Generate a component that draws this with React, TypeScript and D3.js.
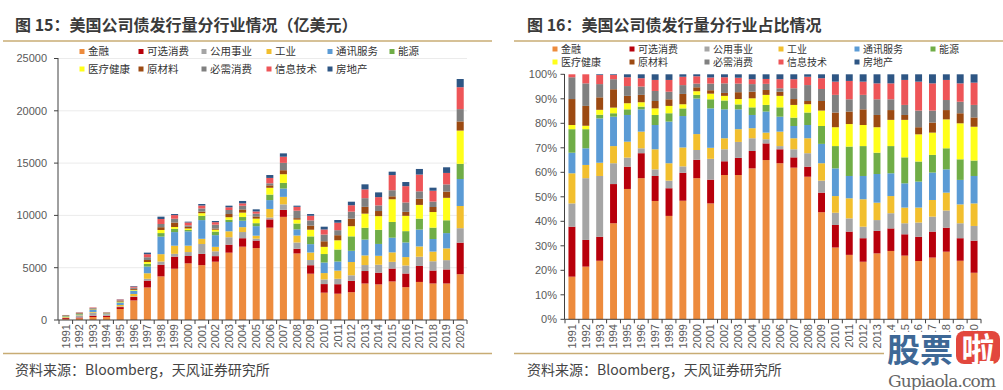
import * as d3 from "d3";

const years = ["1991", "1992", "1993", "1994", "1995", "1996", "1997", "1998", "1999", "2000",
  "2001", "2002", "2003", "2004", "2005", "2006", "2007", "2008", "2009", "2010",
  "2011", "2012", "2013", "2014", "2015", "2016", "2017", "2018", "2019", "2020"];

const seriesNames = ["金融", "可选消费", "公用事业", "工业", "通讯服务", "能源", "医疗健康", "原材料", "必需消费", "信息技术", "房地产"];
const seriesColors = ["#ED8B3D", "#B8000B", "#A5A5A5", "#F2BF2E", "#5B9BD5", "#70AD47", "#FFFF1A", "#9C4A12", "#808080", "#EE5558", "#2E5684"];

// total issuance, 亿美元 (left chart bar heights)
const totals = [480, 740, 1200, 740, 1980, 3250, 6440, 9880, 10130, 9400,
  11090, 9465, 10930, 11380, 10580, 13860, 15930, 10930, 10130, 8920,
  9560, 11310, 12970, 12200, 14180, 13190, 14440, 12650, 14600, 23040];

// share of each industry, % (right chart)
const finance = [17.4, 21.5, 23.9, 39.2, 53.2, 57.6, 48.3, 42.2, 48.3, 57.6, 47.3, 58.9, 58.9, 61.6, 65.0, 63.7, 61.9, 58.2, 43.7, 29.3, 26.3, 23.5, 26.9, 27.9, 26.0, 23.8, 25.2, 27.6, 23.9, 19.0];
const discretionary = [20.4, 10.9, 9.8, 16.0, 9.1, 10.2, 10.2, 11.3, 11.4, 7.5, 9.7, 5.6, 7.0, 7.1, 6.8, 5.7, 4.2, 4.1, 8.0, 9.2, 9.5, 9.6, 9.2, 9.2, 8.7, 9.9, 10.6, 9.8, 9.2, 13.1];
const utilities = [9.5, 25.2, 24.8, 8.5, 3.7, 2.0, 2.7, 3.1, 2.6, 4.0, 8.5, 4.9, 6.5, 5.2, 1.7, 1.3, 3.3, 5.5, 4.9, 5.0, 5.4, 4.7, 4.4, 6.2, 4.5, 5.8, 6.1, 7.0, 6.1, 6.0];
const industrials = [12.3, 5.4, 5.4, 7.0, 6.5, 6.8, 8.2, 7.1, 7.7, 6.5, 4.5, 4.5, 5.2, 4.1, 2.7, 5.9, 4.5, 6.1, 7.1, 6.8, 8.2, 11.2, 7.1, 7.0, 6.4, 6.1, 6.8, 7.3, 7.7, 9.2];
const telecom = [8.4, 6.8, 18.1, 12.0, 10.9, 9.1, 9.9, 17.0, 12.8, 14.5, 16.1, 11.8, 8.1, 5.4, 8.6, 6.1, 5.0, 5.4, 7.9, 11.3, 9.1, 9.5, 11.7, 9.3, 9.9, 10.6, 11.2, 9.5, 10.0, 11.2];
const energy = [9.6, 7.8, 1.5, 1.4, 2.3, 1.1, 4.1, 3.4, 3.1, 1.5, 3.7, 3.6, 2.0, 3.1, 2.7, 3.8, 3.4, 5.1, 7.3, 9.1, 12.0, 12.2, 8.7, 11.1, 10.6, 8.2, 7.2, 8.6, 8.4, 6.3];
const healthcare = [1.7, 1.4, 2.0, 2.3, 2.5, 1.8, 2.7, 3.0, 1.7, 1.5, 2.3, 1.9, 2.2, 3.7, 4.1, 4.7, 5.2, 3.4, 6.3, 7.7, 9.2, 8.6, 10.4, 10.7, 15.3, 11.1, 9.1, 11.8, 14.7, 13.8];
const materials = [10.6, 8.1, 5.1, 7.5, 3.0, 3.0, 3.0, 2.7, 4.2, 1.6, 1.4, 1.2, 2.8, 2.7, 2.0, 1.7, 2.4, 1.3, 3.9, 6.0, 5.1, 6.4, 5.0, 4.0, 2.0, 2.9, 4.1, 3.8, 4.1, 3.8];
const staples = [8.9, 9.2, 5.4, 4.1, 4.0, 3.4, 4.1, 3.1, 3.6, 1.5, 2.7, 3.9, 3.5, 3.1, 2.5, 1.4, 4.4, 6.5, 4.9, 7.2, 5.0, 5.9, 6.4, 4.4, 4.1, 6.8, 4.9, 4.1, 4.7, 5.1];
const infotech = [1.2, 3.7, 3.7, 1.7, 3.6, 3.4, 4.5, 4.8, 3.4, 3.0, 2.5, 2.5, 2.4, 2.0, 2.0, 3.7, 3.7, 3.4, 4.4, 5.4, 7.5, 5.4, 6.5, 6.5, 10.2, 11.8, 11.1, 8.2, 7.5, 9.1];
const realEstate = [0, 0, 0.3, 0.3, 1.2, 1.6, 2.3, 2.3, 1.0, 0.8, 1.3, 1.2, 1.4, 2.0, 1.9, 2.0, 2.0, 1.0, 1.6, 3.0, 2.7, 3.0, 3.7, 3.7, 2.3, 3.0, 3.7, 2.3, 3.7, 3.4];

const shares = [finance, discretionary, utilities, industrials, telecom, energy, healthcare, materials, staples, infotech, realEstate];

const leftTicks = [0, 5000, 10000, 15000, 20000, 25000];
const rightTicks = [0, 0.1, 0.2, 0.3, 0.4, 0.5, 0.6, 0.7, 0.8, 0.9, 1];

const font = '"Liberation Sans", Arial, "Noto Sans CJK SC", sans-serif';
const cjk = '"Noto Sans CJK SC", "Liberation Sans", sans-serif';
const gold = "#C8AC74";
const axisColor = "#404040";
const tickText = "#595959";

type Row = { [key: string]: number | string };

const shareRows: Row[] = years.map((y, i) => {
  const row: Row = { year: y };
  seriesNames.forEach((s, k) => (row[s] = shares[k][i]));
  return row;
});

// amounts = total * industry share
const amountRows: Row[] = years.map((y, i) => {
  const sum = d3.sum(shares, (arr) => arr[i]);
  const row: Row = { year: y };
  seriesNames.forEach((s, k) => (row[s] = (totals[i] * shares[k][i]) / sum));
  return row;
});

const leftStack = d3.stack<Row>().keys(seriesNames).value((d, k) => d[k] as number)(amountRows);
const rightStack = d3.stack<Row>().keys(seriesNames).value((d, k) => d[k] as number).offset(d3.stackOffsetExpand)(shareRows);

function Legend({ xs, rows, size }: { xs: number[]; rows: number[]; size: number }) {
  return (
    <g>
      {seriesNames.map((s, i) => {
        const r = i < 6 ? 0 : 1;
        const c = i < 6 ? i : i - 6;
        const x = xs[c];
        const y = rows[r];
        return (
          <g key={s}>
            <rect x={x - 2.5} y={y - 2.5} width={5} height={5} fill={seriesColors[i]} />
            <text x={x + 6} y={y} dy="0.36em" fontSize={size} fill="#333" fontFamily={cjk}>{s}</text>
          </g>
        );
      })}
    </g>
  );
}

export default function App() {
  const xL = d3.scaleBand().domain(years).range([59, 467]).paddingInner(0.48).paddingOuter(0.24);
  const yL = d3.scaleLinear().domain([0, 25000]).range([320, 58.5]);
  const xR = d3.scaleBand().domain(years).range([565, 981]).paddingInner(0.5).paddingOuter(0.25);
  const yR = d3.scaleLinear().domain([0, 1]).range([319.3, 74.3]);

  const stepL = xL.step();
  const stepR = xR.step();
  const fmtPct = d3.format(".0%");

  return (
    <svg width={1003} height={390} style={{ position: "absolute", left: 0, top: 0, background: "#fff" }} fontFamily={font}>
      {/* titles */}
      <text x={15} y={31} fontSize={16} fontWeight="bold" fill="#3a3a3a" fontFamily={cjk}>图 15：美国公司债发行量分行业情况（亿美元）</text>
      <text x={527} y={31} fontSize={16} fontWeight="bold" fill="#3a3a3a" fontFamily={cjk}>图 16：美国公司债发行量分行业占比情况</text>
      <line x1={3} x2={492} y1={41} y2={41} stroke={gold} strokeWidth={1.5} />
      <line x1={514} x2={1003} y1={41} y2={41} stroke={gold} strokeWidth={1.5} />
      <line x1={3} x2={492} y1={353.5} y2={353.5} stroke={gold} strokeWidth={1.5} />
      <line x1={514} x2={1003} y1={353.5} y2={353.5} stroke={gold} strokeWidth={1.5} />
      <text x={15} y={375} fontSize={14} fill="#444" fontFamily={cjk}>资料来源：Bloomberg，天风证券研究所</text>
      <text x={527} y={375} fontSize={14} fill="#444" fontFamily={cjk}>资料来源：Bloomberg，天风证券研究所</text>

      {/* left chart */}
      <Legend xs={[82, 141, 204, 269, 330, 392]} rows={[51.5, 69]} size={10.5} />
      {leftTicks.map((t) => (
        <g key={t}>
          {t > 0 && <line x1={58} x2={467} y1={yL(t)} y2={yL(t)} stroke="#ebebeb" />}
          <line x1={54} x2={58} y1={yL(t)} y2={yL(t)} stroke={axisColor} />
          <text x={47} y={yL(t)} dy="0.35em" textAnchor="end" fontSize={11} fill={tickText}>{t}</text>
        </g>
      ))}
      {leftStack.map((layer, k) => (
        <g key={layer.key} fill={seriesColors[k]}>
          {layer.map((d, i) => (
            <rect key={i} x={xL(years[i])} y={yL(d[1])} width={xL.bandwidth()} height={Math.max(0, yL(d[0]) - yL(d[1]))} />
          ))}
        </g>
      ))}
      <line x1={58} x2={58} y1={58} y2={320} stroke={axisColor} />
      <line x1={58} x2={467} y1={320} y2={320} stroke={axisColor} />
      {years.map((y, i) => (
        <line key={"tl" + y} x1={59 + i * stepL} x2={59 + i * stepL} y1={320} y2={324} stroke={axisColor} />
      ))}
      <line x1={467} x2={467} y1={320} y2={324} stroke={axisColor} />
      {years.map((y) => (
        <text key={"xl" + y} transform={`translate(${(xL(y) ?? 0) + xL.bandwidth() / 2},324) rotate(-90)`} dy="0.35em" textAnchor="end" fontSize={11} fill={tickText}>{y}</text>
      ))}

      {/* right chart */}
      <Legend xs={[555, 632, 707, 781, 857, 933]} rows={[49, 62]} size={10} />
      {rightStack.map((layer, k) => (
        <g key={layer.key} fill={seriesColors[k]}>
          {layer.map((d, i) => (
            <rect key={i} x={xR(years[i])} y={yR(d[1])} width={xR.bandwidth()} height={Math.max(0, yR(d[0]) - yR(d[1]))} />
          ))}
        </g>
      ))}
      {rightTicks.map((t) => (
        <g key={t}>
          <line x1={560.5} x2={564.5} y1={yR(t)} y2={yR(t)} stroke={axisColor} />
          <text x={557} y={yR(t)} dy="0.35em" textAnchor="end" fontSize={11} fill={tickText}>{fmtPct(t)}</text>
        </g>
      ))}
      <line x1={564.5} x2={564.5} y1={74} y2={319.3} stroke={axisColor} />
      <line x1={564.5} x2={981} y1={319.3} y2={319.3} stroke={axisColor} />
      {years.map((y, i) => (
        <line key={"tr" + y} x1={565 + i * stepR} x2={565 + i * stepR} y1={319.3} y2={323.3} stroke={axisColor} />
      ))}
      <line x1={981} x2={981} y1={319.3} y2={323.3} stroke={axisColor} />
      {years.map((y) => (
        <text key={"xr" + y} transform={`translate(${(xR(y) ?? 0) + xR.bandwidth() / 2},324) rotate(-90)`} dy="0.35em" textAnchor="end" fontSize={11} fill={tickText}>{y}</text>
      ))}

      {/* watermark */}
      <rect x={884} y={332} width={119} height={58} fill="#fff" />
      <text x={887} y={362} fontSize={33} fontWeight="bold" fill="#3E6896" fontFamily={cjk}>股票</text>
      <rect x={956} y={331} width={44} height={33} rx={8} fill="#E2473D" />
      <text x={978} y={362} fontSize={33} fontWeight="bold" fill="#fff" textAnchor="middle" fontFamily={cjk}>啦</text>
      <text x={888} y={387} fontSize={17} fill="#666" fontFamily='"DejaVu Serif", serif' textLength={108}>Gupiaola.com</text>
    </svg>
  );
}
